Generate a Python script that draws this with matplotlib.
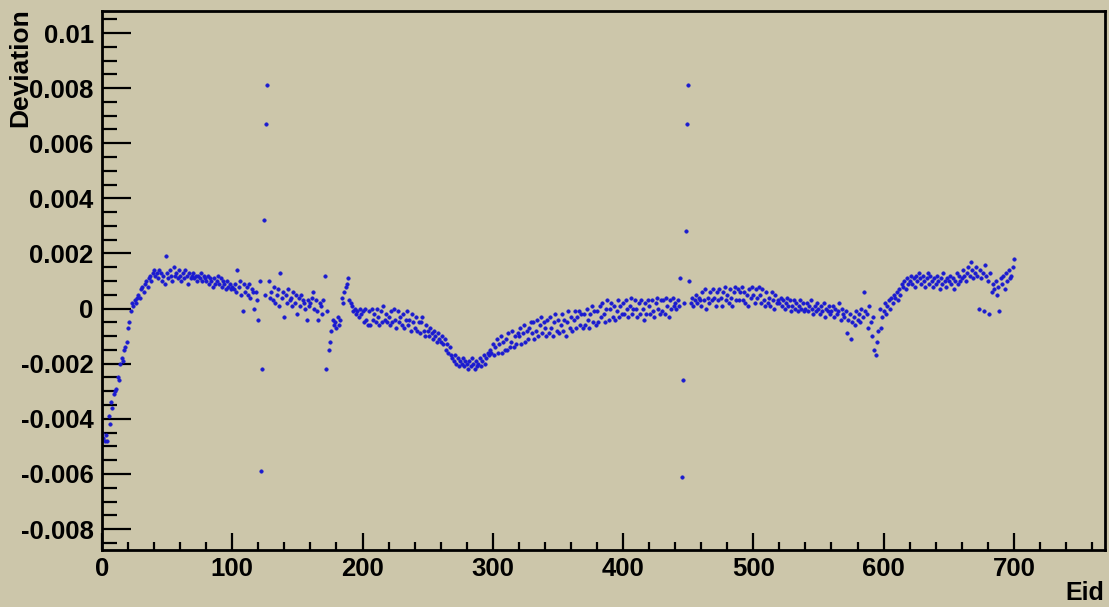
import numpy as np
import matplotlib.pyplot as plt

# deviation per Eid, in units of 1e-4 (Eid = 0, 1, 2, ...)
dev_e4 = [
    -45, -47, -48, -46, -48, -39, -42, -34, -36, -31,   # 0
    -30, -29, -25, -26, -20, -18, -19, -15, -14, -12,   # 10
    -7, -5, -1, 2, 1, 3, 2, 4, 5, 4,                    # 20
    7, 8, 6, 9, 10, 8, 11, 12, 10, 13,                  # 30
    14, 12, 13, 11, 14, 13, 10, 12, 9, 19,              # 40
    13, 11, 14, 12, 10, 15, 12, 13, 11, 14,             # 50
    12, 10, 13, 11, 14, 12, 9, 13, 11, 12,              # 60
    13, 11, 12, 10, 12, 11, 13, 10, 12, 11,             # 70
    10, 12, 9, 11, 10, 8, 11, 9, 10, 12,                # 80
    9, 11, 8, 10, 9, 7, 10, 8, 9, 7,                    # 90
    8, 7, 9, 6, 14, 8, 10, 5, -1, 9,                    # 100
    6, 8, 5, 9, 4, 7, 6, 0, 6, 3,                       # 110
    -4, 10, -59, -22, 32, 5, 67, 81, 10, 4,             # 120
    6, 3, 8, 2, 5, 7, 1, 13, 4, 6,                      # 130
    -3, 5, 2, 7, 3, 4, 1, 6, 2, 5,                      # 140
    -2, 4, 1, 5, 3, 2, 0, -4, 3, 1,                     # 150
    2, 4, 6, 0, 3, -1, -4, 2, 1, -2,                    # 160
    3, 12, -22, -1, -15, -12, -8, -4, -6, -5,           # 170
    -7, -3, -6, -4, 4, 2, 6, 8, 9, 11,                  # 180
    3, 2, 1, -1, 0, -2, -1, -3, 0, -2,                  # 190
    -1, -5, 0, -4, -6, -1, -6, 0, -4, -2,               # 200
    -5, 0, -3, -6, -1, -5, 1, -4, -2, -5,               # 210
    -3, -6, -1, -5, 0, -4, -7, -1, -5, -3,              # 220
    -6, -2, -7, -4, -1, -6, -4, -8, -2, -5,             # 230
    -7, -3, -8, -5, -9, -5, -3, -8, -10, -6,            # 240
    -8, -10, -7, -9, -11, -8, -10, -12, -9, -11,        # 250
    -12, -10, -13, -11, -15, -13, -16, -14, -17, -18,   # 260
    -19, -17, -20, -18, -21, -19, -20, -18, -21, -19,   # 270
    -20, -22, -19, -21, -18, -20, -22, -19, -21, -20,   # 280
    -18, -21, -19, -17, -20, -18, -16, -17, -15, -16,   # 290
    -13, -17, -14, -11, -16, -13, -10, -16, -12, -15,   # 300
    -11, -15, -9, -14, -12, -8, -14, -10, -13, -9,      # 310
    -10, -7, -13, -9, -6, -12, -8, -11, -7, -5,         # 320
    -9, -5, -11, -8, -4, -10, -6, -3, -9, -5,           # 330
    -7, -10, -4, -9, -3, -7, -10, -5, -2, -8,           # 340
    -4, -9, -6, -2, -8, -4, -10, -5, -1, -7,            # 350
    -3, -8, -4, -1, -7, -3, -1, -6, -2, -7,             # 360
    -2, -6, 0, -4, -7, -2, 1, -5, -1, -6,               # 370
    -1, -5, 1, -3, 2, -2, -5, 0, 3, -4,                 # 380
    0, 2, -3, 1, -4, -1, 3, -3, 1, -2,                  # 390
    2, -2, 3, 0, -3, 1, 4, -2, 0, 3,                    # 400
    0, -3, 2, -2, 3, 0, -4, 2, -2, 3,                   # 410
    1, -2, 3, -1, -3, 2, 4, 0, -2, 3,                   # 420
    -1, 3, -2, 4, 1, -3, 3, 0, 4, 1,                    # 430
    2, 0, 3, 1, 11, -61, -26, 2, 28, 67,                # 440
    81, 10, 2, 4, 1, 3, 5, 2, 4, 3,                     # 450
    1, 6, 3, 7, 0, 4, 2, 6, 3, 7,                       # 460
    4, 1, 6, 3, 7, 4, 1, 6, 8, 3,                       # 470
    5, 2, 7, 4, 1, 6, 8, 3, 7, 3,                       # 480
    6, 8, 3, 6, 2, 5, 1, 7, 4, 8,                       # 490
    5, 2, 7, 4, 8, 5, 2, 7, 3, 1,                       # 500
    6, 2, 4, 1, 6, 3, 0, 5, 2, 3,                       # 510
    2, 4, 1, 3, 0, 2, 4, 1, 3, -1,                      # 520
    1, 3, 0, 2, -1, 1, 3, 0, 2, -1,                     # 530
    0, 2, -1, 1, 3, 0, -2, 1, -1, 2,                    # 540
    0, -2, 1, -1, 2, -3, 0, -1, 1, -2,                  # 550
    -1, 1, -3, 0, -2, -1, 2, -4, 0, -2,                 # 560
    -3, -1, -9, -4, -2, -11, -5, -3, -6, -1,            # 570
    -4, -2, -5, 0, -3, 6, -1, -2, -7, 1,                # 580
    -5, -10, -3, -15, -17, -12, -8, 0, -7, -3,          # 590
    -1, 2, -2, 1, 3, 0, 4, 2, 5, 4,                     # 600
    6, 3, 7, 5, 9, 8, 10, 7, 11, 9,                     # 610
    10, 12, 9, 11, 8, 12, 10, 13, 11, 9,                # 620
    12, 10, 8, 11, 13, 9, 12, 10, 8, 11,                # 630
    9, 12, 10, 7, 11, 9, 13, 10, 8, 11,                 # 640
    10, 12, 9, 11, 7, 10, 13, 9, 12, 10,                # 650
    11, 14, 12, 10, 13, 15, 12, 17, 14, 11,             # 660
    13, 15, 12, 0, 14, 11, 13, -1, 16, 12,              # 670
    10, -2, 13, 6, 9, 7, 10, 5, 8, -1,                  # 680
    11, 9, 12, 7, 13, 10, 14, 11, 12, 15,               # 690
    18,                                                 # 700
]
eid = np.arange(len(dev_e4))
dev = np.array(dev_e4) * 1e-4

y_ticks = [-0.008, -0.006, -0.004, -0.002, 0, 0.002, 0.004, 0.006, 0.008, 0.01]
y_labels = ["-0.008", "-0.006", "-0.004", "-0.002", "0", "0.002", "0.004", "0.006", "0.008", "0.01"]
x_ticks = [0, 100, 200, 300, 400, 500, 600, 700]

bg = '#ccc6aa'
plt.rcParams['font.family'] = ['Liberation Sans', 'DejaVu Sans']
plt.rcParams['font.weight'] = 'bold'

fig = plt.figure(figsize=(11.09, 6.07), dpi=100, facecolor=bg)
ax = fig.add_axes([102 / 1109, 1 - 550 / 607, 1003 / 1109, 539 / 607], facecolor=bg)

ax.plot(eid, dev, linestyle='none', marker='o', markersize=2.6,
        markerfacecolor='#1a1ad0', markeredgecolor='#1a1ad0', markeredgewidth=0.3)

ax.set_xlim(0, 770)
ax.set_ylim(-0.00876, 0.0108)
ax.set_xticks(x_ticks)
ax.set_xticks(np.arange(0, 771, 20), minor=True)
ax.set_yticks(y_ticks)
ax.set_yticklabels(y_labels)
ax.set_yticks(np.arange(-0.0085, 0.0106, 0.0005), minor=True)

ax.tick_params(axis='y', which='major', direction='in', length=21, width=1.6, pad=6, labelsize=18.5)
ax.tick_params(axis='y', which='minor', direction='in', length=10.5, width=1.6)
ax.tick_params(axis='x', which='major', direction='in', length=12, width=1.6, pad=5, labelsize=18.5)
ax.tick_params(axis='x', which='minor', direction='in', length=6, width=1.6)
for s in ax.spines.values():
    s.set_linewidth(2)
    s.set_color('black')

fig.text(20 / 1109, 1 - 8 / 607, 'Deviation', rotation=90, ha='center', va='top',
         fontsize=19, fontweight='bold')
fig.text(1104 / 1109, 1 - 605 / 607, 'Eid', ha='right', va='bottom',
         fontsize=18, fontweight='bold')

plt.savefig('out.png', dpi=100, facecolor=bg)
